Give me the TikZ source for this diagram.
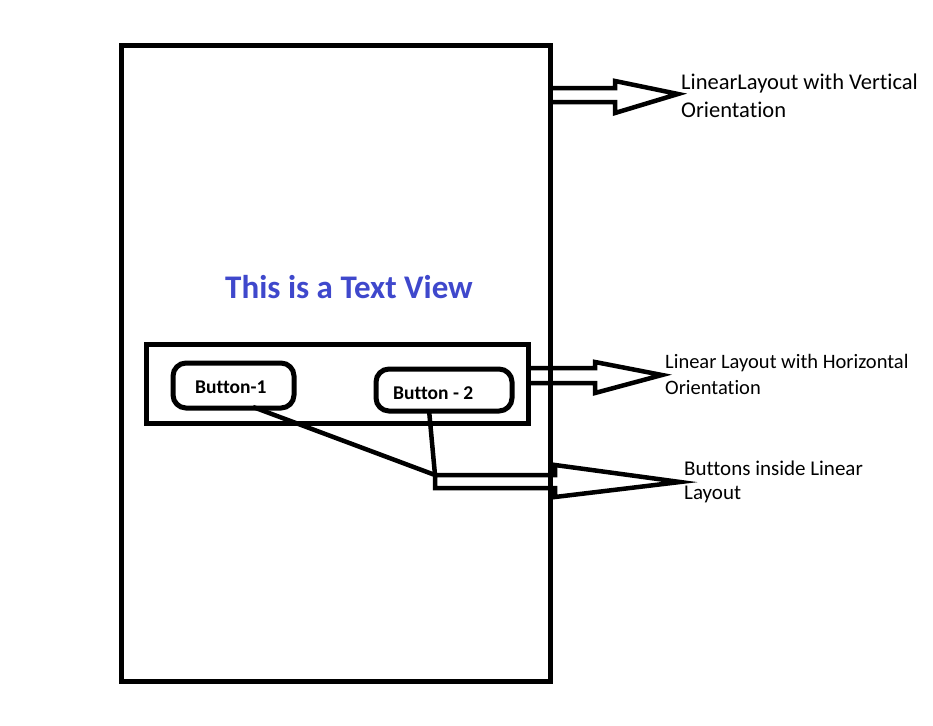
\documentclass[tikz,border=0pt]{standalone}
\usepackage{fontspec}
\setmainfont{Carlito}[Ligatures=NoCommon]
\definecolor{paintblue}{RGB}{63,72,204}
\tikzset{
  box/.style={draw, line width=5pt, inner sep=0pt, outer sep=0pt},
  btn/.style={draw, line width=5pt, rounded corners=13pt, inner sep=0pt, outer sep=0pt},
  hollow/.style={draw, line width=4.5pt, line join=miter},
  conn/.style={draw, line width=4.5pt},
  lbl/.style={anchor=base west, inner sep=0pt, align=left},
}
\begin{document}
\begin{tikzpicture}[x=1pt,y=-1pt]
\useasboundingbox (0,0) rectangle (933,725);
% outer LinearLayout
\node[box, minimum width=429pt, minimum height=635pt] (outer) at (335.5,363.5) {};
% inner horizontal layout
\node[box, minimum width=382pt, minimum height=79pt] (inner) at (337,383.5) {};
% buttons
\node[btn, minimum width=121pt, minimum height=45pt] (b1) at (233.5,385.5) {};
\node[btn, minimum width=136pt, minimum height=42pt] (b2) at (444,390) {};
\node[lbl, font=\fontsize{19.5}{22}\selectfont\bfseries] (b1t) at (195,393) {Button-1};
\node[lbl, font=\fontsize{19.5}{22}\selectfont\bfseries] (b2t) at (393,399) {Button - 2};
% title
\node[lbl, font=\fontsize{33}{38}\selectfont\bfseries, text=paintblue] (title) at (225,298) {This is a Text View};
% arrow 1
\draw[hollow] (outer.east |- 0,88) -- (615,88) -- (615,81) -- (678,94) -- (615,113) -- (615,102) -- (outer.east |- 0,102);
\node[lbl, font=\fontsize{22.5}{28}\selectfont] (t1) at (681,117) {LinearLayout with Vertical\\Orientation};
% arrow 2
\draw[hollow] (inner.east |- 0,368) -- (595,368) -- (595,362) -- (662,375) -- (595,393) -- (595,383) -- (inner.east |- 0,383);
\node[lbl, font=\fontsize{20.5}{26}\selectfont] (t2) at (665,394) {Linear Layout with Horizontal\\Orientation};
% connectors from buttons
\coordinate (j) at (435,475);
\draw[conn] (253,407) -- (j);
\draw[conn] (429,410) -- (j);
% arrow 3
\draw[hollow] (j) -- (555,475) -- (555,465) -- (680,482) -- (555,497) -- (555,488) -- (435,488) -- cycle;
\node[lbl, font=\fontsize{21}{24}\selectfont] (t3) at (684,499) {Buttons inside Linear\\Layout};
\end{tikzpicture}
\end{document}
